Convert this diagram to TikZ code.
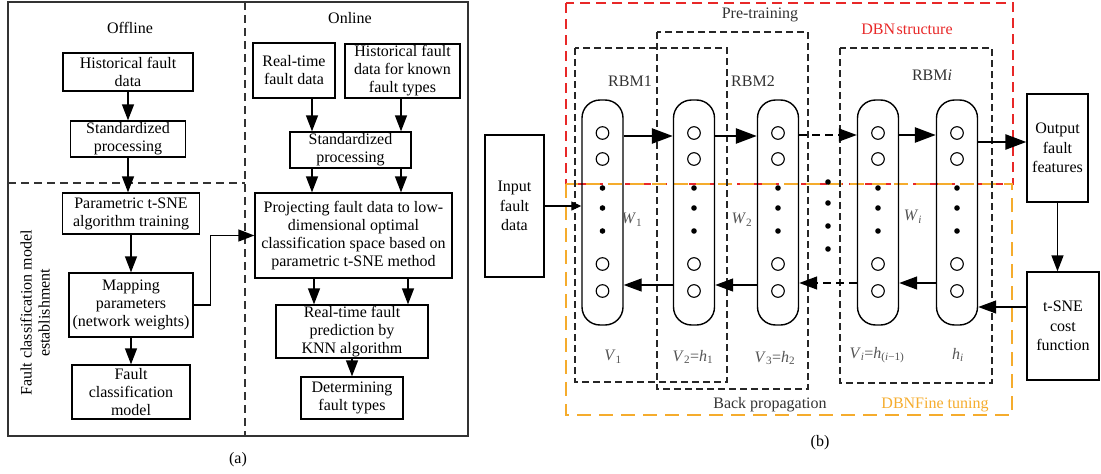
\documentclass[tikz,border=0pt]{standalone}
\usepackage{fontspec}
\setmainfont{Liberation Serif}
\usepackage{tikz}
\usetikzlibrary{arrows.meta}
\definecolor{dbnred}{RGB}{232,40,40}
\definecolor{tuneorange}{RGB}{245,172,45}
\definecolor{labgray}{RGB}{85,85,85}
\newcommand{\fs}{\fontsize{16}{18}\selectfont}
\newcommand{\fsb}{\fontsize{16}{19.5}\selectfont}

\begin{document}
\begin{tikzpicture}[x=1pt,y=-1pt,font=\fs,
  box/.style={draw,line width=1.3pt,inner sep=1pt,align=center},
  arr/.style={-{Triangle[length=16pt,width=12pt]},line width=1.3pt},
  fwd/.style={-{Triangle[length=21pt,width=15pt]},line width=2.6pt},
  bwd/.style={-{Triangle[length=18pt,width=13pt]},line width=1.3pt},
  dashedarr/.style={dash pattern=on 8pt off 5pt},
  outerframe/.style={line width=1.5pt,black!80},
  divider/.style={line width=1.3pt,black!80,dash pattern=on 8pt off 5pt},
  rbmbox/.style={line width=1.2pt,black!85,dash pattern=on 7pt off 4pt},
  pill/.style={draw,line width=1.4pt,rounded corners=18pt,minimum width=41pt,
               minimum height=225pt,inner sep=0pt},
  neuron/.style={draw,circle,line width=1.1pt,minimum size=12.6pt,inner sep=0pt},
  vlabel/.style={text=labgray}]
  \useasboundingbox (0,0) rectangle (1101,474);

  % (a) offline / online flow
  \draw[outerframe] (8,2) rectangle (468,436);
  \draw[divider] (245,2) -- (245,436);
  \draw[divider] (8,183) -- (245,183);
  \node (offl) at (130,28) {Offline};
  \node (onl) at (350,18) {Online};
  \node[rotate=90,align=center] (fcme) at (35,313) {Fault classification model\\establishment};

  \node[box,minimum width=130pt,minimum height=38pt] (HFD) at (128,72) {Historical fault\\data};
  \node[box,minimum width=115pt,minimum height=36pt] (STDa) at (128,139) {Standardized\\processing};
  \node[box,minimum width=137pt,minimum height=41pt] (PTS) at (131,213.5) {Parametric t-SNE\\algorithm training};
  \node[box,minimum width=124pt,minimum height=64pt] (MAP) at (131,305) {Mapping\\parameters\\(network weights)};
  \node[box,minimum width=118pt,minimum height=54pt] (FCM) at (131,392) {Fault\\classification\\model};

  \node[box,minimum width=82pt,minimum height=55pt] (RTF) at (294,70.5) {Real-time\\fault data};
  \node[box,minimum width=115pt,minimum height=54pt] (HFK) at (402.5,71) {Historical fault\\data for known\\fault types};
  \node[box,minimum width=121pt,minimum height=36pt] (STDb) at (350.5,150) {Standardized\\processing};
  \node[box,minimum width=197pt,minimum height=85pt] (PRJ) at (353.5,235.5) {Projecting fault data to low-\\dimensional optimal\\classification space based on\\parametric t-SNE method};
  \node[box,minimum width=152pt,minimum height=53pt] (KNN) at (352,331.5) {Real-time fault\\prediction by\\KNN algorithm};
  \node[box,minimum width=102pt,minimum height=42pt] (DFT) at (352,398) {Determining\\fault types};

  \coordinate (ca) at (312,0);
  \coordinate (cb) at (401,0);
  \coordinate (cc) at (314,0);
  \coordinate (cd) at (408,0);

  \draw[arr] (HFD.south) -- (STDa.north -| HFD.south);
  \draw[arr] (STDa.south) -- (PTS.north -| STDa.south);
  \draw[arr] (PTS.south) -- (MAP.north);
  \draw[arr] (MAP.south) -- (FCM.north);
  \draw[arr] (MAP.east) -- ++(17,0) |- (PRJ.west);
  \draw[arr] (RTF.south -| ca) -- (STDb.north -| ca);
  \draw[arr] (HFK.south -| cb) -- (STDb.north -| cb);
  \draw[arr] (STDb.south -| ca) -- (PRJ.north -| ca);
  \draw[arr] (STDb.south -| cb) -- (PRJ.north -| cb);
  \draw[arr] (PRJ.south -| cc) -- (KNN.north -| cc);
  \draw[arr] (PRJ.south -| cd) -- (KNN.north -| cd);
  \draw[arr] (KNN.south) -- (DFT.north);
  \node (capa) at (238,460) {(a)};

  % (b) DBN structure
  \draw[dbnred,line width=1.5pt,dash pattern=on 10pt off 6pt] (566,3) rectangle (1013,184);
  \draw[tuneorange,line width=2.8pt,dash pattern=on 14pt off 8pt] (566,184) rectangle (1012,415);
  \draw[rbmbox] (575,48) rectangle (727,382);
  \draw[rbmbox] (657,32) rectangle (808,389);
  \draw[rbmbox] (840,48) rectangle (992,383);
  \node[text=black!80] (pretr) at (760,15) {Pre-training};
  \node[text=dbnred] (dbns) at (907,29) {DBN\hspace{1.5pt}structure};
  \node[text=black!80] (backp) at (770,405) {Back propagation};
  \node[text=tuneorange] (fine) at (935,405) {DBNFine tuning};
  \node[text=black!80] (rbma) at (630,81) {RBM1};
  \node[text=black!80] (rbmb) at (753,81) {RBM2};
  \node[text=black!80] (rbmc) at (932,75) {RBM\textit{i}};

  \foreach \n/\x in {1/602.5,2/694,3/778,4/878,5/957}{
    \node[pill] (lay\n) at (\x,212.5) {};
    \foreach \y in {133,159,264,291}
      \node[neuron] at (\x,\y) {};
    \foreach \y in {188,208,231}
      \fill (\x,\y) circle (2.8pt);
  }
  \foreach \y in {182,203,226,249}
    \fill (828,\y) circle (2.8pt);

  \node[vlabel] (va) at (613,357) {\textit{V}\textsubscript{1}};
  \node[vlabel] (vb) at (693,357) {\textit{V}\textsubscript{2}=\textit{h}\textsubscript{1}};
  \node[vlabel] (vc) at (775,358) {\textit{V}\textsubscript{3}=\textit{h}\textsubscript{2}};
  \node[vlabel] (vd) at (877,355) {\textit{V}\textsubscript{\textit{i}}=\textit{h}\textsubscript{(\textit{i}−1)}};
  \node[vlabel] (ve) at (958,355) {\textit{h}\textsubscript{\textit{i}}};
  \node[vlabel] (wa) at (632,220) {\textit{W}\textsubscript{1}};
  \node[vlabel] (wb) at (742,220) {\textit{W}\textsubscript{2}};
  \node[vlabel] (wc) at (913,217) {\textit{W}\textsubscript{\textit{i}}};

  \node[box,font=\fsb,minimum width=59pt,minimum height=142pt] (inp) at (514.5,206) {Input\\fault\\data};
  \node[box,font=\fsb,minimum width=61pt,minimum height=108pt] (outp) at (1057.5,148) {Output\\fault\\features};
  \node[box,font=\fsb,minimum width=72pt,minimum height=108pt] (tsne) at (1063,326) {t-SNE\\cost\\function};

  \draw[fwd] (lay1.east |- 0,136) -- (lay2.west |- 0,136);
  \draw[fwd] (lay2.east |- 0,136) -- (lay3.west |- 0,136);
  \draw[arr,dashedarr,-{Triangle[length=18pt,width=13pt]}] (lay3.east |- 0,135) -- (lay4.west |- 0,135);
  \draw[fwd] (lay4.east |- 0,135) -- (lay5.west |- 0,135);
  \draw[fwd] (lay5.east |- 0,142) -- (outp.west |- 0,142);
  \draw[arr] (outp.south) -- (tsne.north -| outp.south);
  \draw[bwd] (tsne.west |- 0,307) -- (lay5.east |- 0,307);
  \draw[bwd] (lay5.west |- 0,283) -- (lay4.east |- 0,283);
  \draw[bwd,dashedarr] (lay4.west |- 0,283) -- (lay3.east |- 0,283);
  \draw[bwd] (lay3.west |- 0,285) -- (lay2.east |- 0,285);
  \draw[bwd] (lay2.west |- 0,285) -- (lay1.east |- 0,285);
  \draw[-{Triangle[length=10pt,width=9pt]},line width=1.3pt] (inp.east) -- (lay1.west |- inp.east);
  \node (capb) at (820,443) {(b)};
\end{tikzpicture}
\end{document}
